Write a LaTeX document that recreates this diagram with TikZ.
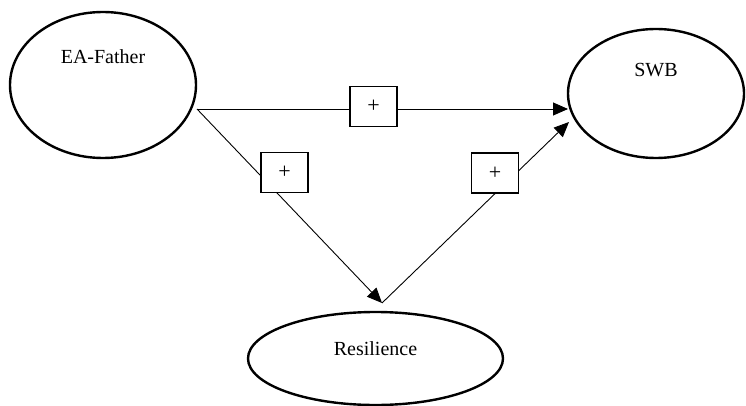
\documentclass[tikz,border=0pt]{standalone}
\usepackage{fontspec}
\setmainfont{Liberation Serif}
\usetikzlibrary{shapes.geometric,arrows.meta}
\begin{document}
\begin{tikzpicture}[x=1pt,y=-1pt,
  latent/.style={ellipse,draw,line width=2.4pt,inner sep=0pt},
  lbl/.style={font=\fontsize{20}{24}\selectfont},
  signbox/.style={draw,fill=white,line width=1.3pt,minimum width=47pt,minimum height=40pt,inner sep=0pt,font=\fontsize{22}{24}\selectfont},
  path/.style={line width=0.9pt,-{Triangle[length=15pt,width=13pt]}},
  plain/.style={line width=0.9pt}]
\useasboundingbox (0,0) rectangle (746,406);
\node[latent,minimum width=186pt,minimum height=146pt,
  label={[lbl,yshift=28pt]center:EA-Father}] (ea) at (103,85) {};
\node[latent,minimum width=176pt,minimum height=129pt,
  label={[lbl,yshift=23pt]center:SWB}] (swb) at (656,93.5) {};
\node[latent,minimum width=255pt,minimum height=93pt,
  label={[lbl,yshift=10pt]center:Resilience}] (res) at (375.5,358.5) {};
\coordinate (eaout) at (197,109);
\coordinate (swbin1) at (568,109);
\coordinate (swbin2) at (569,122);
\coordinate (resin) at (382,303);
\draw[path] (eaout) -- (swbin1);
\draw[path] (eaout) -- (resin);
\draw[path] (resin) -- (swbin2);
\node[signbox] (b1) at (373.5,106.5) {+};
\node[signbox] (b2) at (284.5,172.5) {+};
\node[signbox] (b3) at (495,173) {+};
\end{tikzpicture}
\end{document}
